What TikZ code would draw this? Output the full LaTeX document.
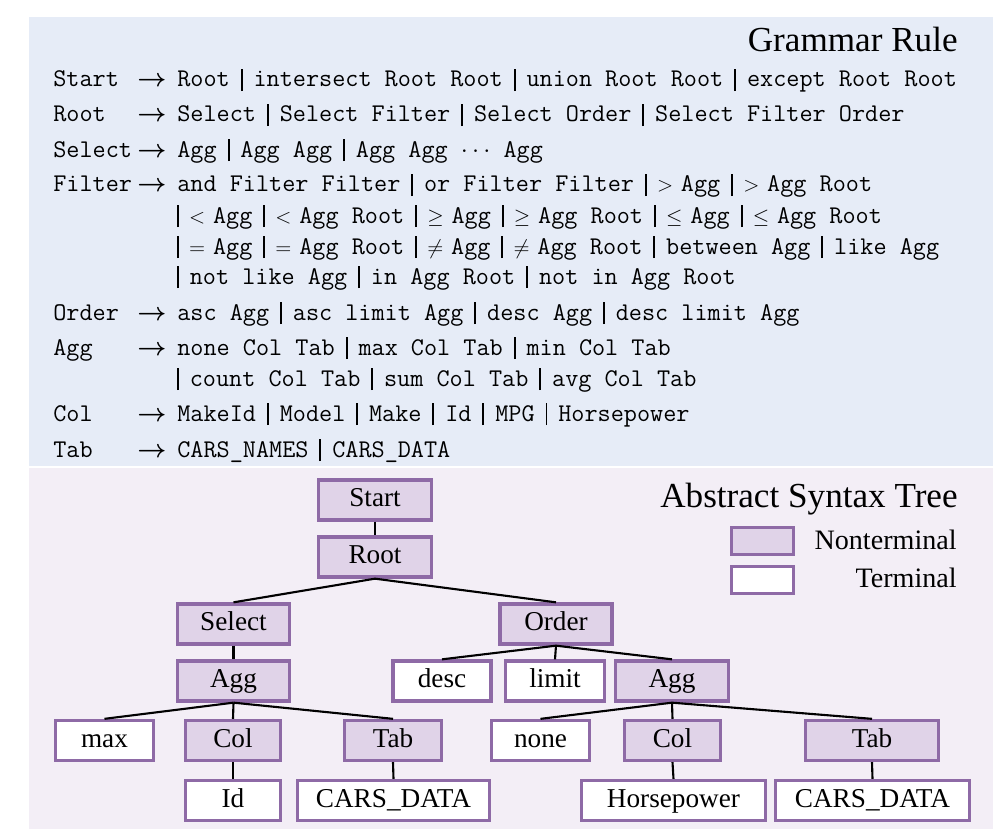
\documentclass[tikz,border=0pt]{standalone}
\usepackage{fontspec}
\setmainfont{Liberation Serif}
\usetikzlibrary{positioning}

\definecolor{gramBg}{HTML}{E6ECF7}
\definecolor{treeBg}{HTML}{F3EEF6}
\definecolor{ntFill}{HTML}{E0D3E8}
\definecolor{ntLine}{HTML}{8E6AA6}

\newcommand{\altbar}{\rule[-2.3pt]{1.1pt}{12.8pt}}
\newcommand{\OR}{\hspace{6.2pt}\altbar\hspace{6.2pt}}
\newcommand{\ORfirst}{\altbar\hspace{6pt}}
\newcommand{\sym}[1]{{\fontsize{13}{14}\selectfont\kern-0.4pt$#1$\kern-3pt}}

\begin{document}
\begin{tikzpicture}[
  x=0.02cm, y=-0.02cm,
  heading/.style={inner sep=0, anchor=base east, font=\fontsize{20}{24}\selectfont},
  lhs/.style={inner sep=0, anchor=base west, font=\fontsize{14.5}{16}\selectfont\ttfamily},
  rhs/.style={inner sep=0, anchor=base west, font=\fontsize{14.5}{16}\selectfont\ttfamily},
  arr/.style={inner sep=0, anchor=base west, font=\fontsize{15}{16}\selectfont\boldmath},
  nonterm/.style={draw=ntLine, fill=ntFill, line width=1.9pt, minimum height=0.8cm, inner sep=0,
    text height=10.5pt, text depth=3pt, font=\fontsize{15.5}{18}\selectfont},
  term/.style={draw=ntLine, fill=white, line width=1.9pt, minimum height=0.8cm, inner sep=0,
    text height=10.5pt, text depth=3pt, font=\fontsize{15.5}{18}\selectfont},
  legtext/.style={inner sep=0, anchor=base east, font=\fontsize{16}{19}\selectfont},
  branch/.style={line width=1.2pt, black}
]
\useasboundingbox (0,0) rectangle (1004,838);
\fill[gramBg] (29,17) rectangle (993,466);
\fill[treeBg] (29,468) rectangle (993,829);

% grammar rules
\node[heading] (gramTitle) at (958,52) {Grammar Rule};
\foreach \lname/\ly in {Start/87, Root/122, Select/157, Filter/192, Order/320, Agg/355, Col/421, Tab/457} {
  \node[lhs] (lhs-\lname) at (53,\ly) {\lname};
  \node[arr] (arr-\lname) at (137,\ly) {$\rightarrow$};
}
\node[rhs] (rStart) at (177,87) {Root\OR intersect Root Root\OR union Root Root\OR except Root Root};
\node[rhs] (rRoot) at (177,122) {Select\OR Select Filter\OR Select Order\OR Select Filter Order};
\node[rhs] (rSelect) at (177,157) {Agg\OR Agg Agg\OR Agg Agg $\cdots$ Agg};
\node[rhs] (rFilterA) at (177,192) {and Filter Filter\OR or Filter Filter\OR \sym{>} Agg\OR \sym{>} Agg Root};
\node[rhs] (rFilterB) at (177,223) {\ORfirst\sym{<} Agg\OR \sym{<} Agg Root\OR \sym{\geq} Agg\OR \sym{\geq} Agg Root\OR \sym{\leq} Agg\OR \sym{\leq} Agg Root};
\node[rhs] (rFilterC) at (177,254) {\ORfirst\sym{=} Agg\OR \sym{=} Agg Root\OR \sym{\neq} Agg\OR \sym{\neq} Agg Root\OR between Agg\OR like Agg};
\node[rhs] (rFilterD) at (177,284) {\ORfirst not like Agg\OR in Agg Root\OR not in Agg Root};
\node[rhs] (rOrder) at (177,320) {asc Agg\OR asc limit Agg\OR desc Agg\OR desc limit Agg};
\node[rhs] (rAggA) at (177,355) {none Col Tab\OR max Col Tab\OR min Col Tab};
\node[rhs] (rAggB) at (177,386) {\ORfirst count Col Tab\OR sum Col Tab\OR avg Col Tab};
\node[rhs] (rCol) at (177,421) {MakeId\OR Model\OR Make\OR Id\OR MPG\OR Horsepower};
\node[rhs] (rTab) at (177,457) {CARS\_NAMES\OR CARS\_DATA};

% abstract syntax tree
\node[heading] (treeTitle) at (958,507) {Abstract Syntax Tree};
\draw[draw=ntLine, fill=ntFill, line width=1.9pt] (731.5,527.5) rectangle (793.5,554.5);
\draw[draw=ntLine, fill=white, line width=1.9pt] (731.5,566.5) rectangle (793.5,593.5);
\node[legtext] (legNTtext) at (957,549) {Nonterminal};
\node[legtext] (legTtext) at (957,587) {Terminal};

\node[nonterm, minimum width=2.26cm] (start) at (375,500) {Start};
\node[nonterm, minimum width=2.26cm] (root) at (375,557) {Root};
\node[nonterm, minimum width=2.24cm] (select) at (233.5,624) {Select};
\node[nonterm, minimum width=2.24cm] (order) at (556,624) {Order};
\node[nonterm, minimum width=2.24cm] (aggL) at (233.5,681) {Agg};
\node[term, minimum width=1.96cm] (desc) at (442,681) {desc};
\node[term, minimum width=1.98cm] (limit) at (555,681) {limit};
\node[nonterm, minimum width=2.26cm] (aggR) at (672,681) {Agg};
\node[term, minimum width=1.96cm] (max) at (104.5,740.5) {max};
\node[nonterm, minimum width=1.9cm] (colL) at (233,740.5) {Col};
\node[nonterm, minimum width=1.94cm] (tabL) at (393,740.5) {Tab};
\node[term, minimum width=1.96cm] (none) at (540.5,740.5) {none};
\node[nonterm, minimum width=1.92cm] (colR) at (672.5,740.5) {Col};
\node[nonterm, minimum width=2.66cm] (tabR) at (872,740.5) {Tab};
\node[term, minimum width=1.9cm] (id) at (233,800.5) {Id};
\node[term, minimum width=3.84cm] (carsL) at (393.5,800.5) {CARS\_DATA};
\node[term, minimum width=3.68cm] (hp) at (673.5,800.5) {Horsepower};
\node[term, minimum width=3.88cm] (carsR) at (872.5,800.5) {CARS\_DATA};

\foreach \pa/\ch in {start/root, root/select, root/order, select/aggL, aggL/max, aggL/colL, aggL/tabL,
  colL/id, tabL/carsL, order/desc, order/limit, order/aggR, aggR/none, aggR/colR, aggR/tabR, colR/hp, tabR/carsR}
  \draw[branch] (\pa.south) -- (\ch.north);
\end{tikzpicture}
\end{document}
